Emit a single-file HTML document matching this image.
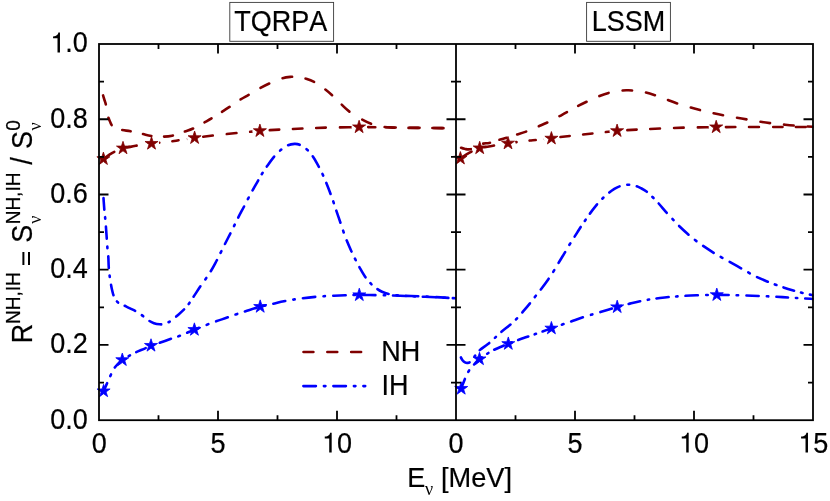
<!DOCTYPE html>
<html><head><meta charset="utf-8"><title>R NH/IH</title>
<style>html,body{margin:0;padding:0;background:#fff;}body{width:830px;height:501px;overflow:hidden;font-family:"Liberation Sans",sans-serif;}svg{display:block;will-change:transform;}text{font-family:"Liberation Sans",sans-serif;fill:#000;font-kerning:none;stroke:#000;stroke-width:0.2px;}.sf{font-family:"Liberation Serif",serif;stroke:none;}</style>
</head><body>
<svg width="830" height="501" viewBox="0 0 830 501">
<rect x="0" y="0" width="830" height="501" fill="#fff"/>
<defs><clipPath id="cl"><rect x="99.0" y="44.0" width="357.0" height="376.2"/></clipPath><clipPath id="cr"><rect x="456.0" y="44.0" width="357.5" height="376.2"/></clipPath></defs>
<g id="curves">
<path d="M103.40 158.90 C106.40 156.90 108.13 155.23 112.40 152.90 C116.98 150.40 118.47 149.90 123.00 148.20 C124.28 147.72 124.66 148.05 126.00 147.80" fill="none" stroke="#800000" stroke-width="2.60" stroke-dasharray="9.900 13.950" stroke-dashoffset="20.92" stroke-linecap="round" stroke-linejoin="round" clip-path="url(#cl)"/>
<path d="M126.00 147.80 C130.23 147.00 131.30 146.52 135.70 145.80 C142.78 144.63 144.38 144.48 151.50 143.60 C160.40 142.50 162.40 142.49 171.30 141.40" fill="none" stroke="#800000" stroke-width="2.60" stroke-dasharray="9.502 13.389" stroke-dashoffset="21.64" stroke-linecap="round" stroke-linejoin="round" clip-path="url(#cl)"/>
<path d="M171.30 141.40 C174.87 140.96 175.65 140.74 179.20 140.20 C182.71 139.66 183.49 139.52 187.00 139.00" fill="none" stroke="#800000" stroke-width="2.60" stroke-dasharray="6.593 9.290" stroke-dashoffset="15.02" stroke-linecap="round" stroke-linejoin="round" clip-path="url(#cl)"/>
<path d="M187.00 139.00 C190.42 138.49 191.18 138.39 194.60 137.90 C197.79 137.44 198.50 137.29 201.70 136.90" fill="none" stroke="#800000" stroke-width="2.60" stroke-dasharray="6.164 8.686" stroke-dashoffset="14.04" stroke-linecap="round" stroke-linejoin="round" clip-path="url(#cl)"/>
<path d="M201.70 136.90 C211.93 135.67 214.67 135.32 225.30 134.20" fill="none" stroke="#800000" stroke-width="2.60" stroke-dasharray="9.860 13.894" stroke-dashoffset="22.46" stroke-linecap="round" stroke-linejoin="round" clip-path="url(#cl)"/>
<path d="M225.30 134.20 C235.96 133.07 238.33 132.92 249.00 131.90" fill="none" stroke="#800000" stroke-width="2.60" stroke-dasharray="9.884 13.928" stroke-dashoffset="22.51" stroke-linecap="round" stroke-linejoin="round" clip-path="url(#cl)"/>
<path d="M249.00 131.90 C253.90 131.43 254.99 131.33 259.90 130.90 C263.68 130.57 264.51 130.43 268.30 130.20" fill="none" stroke="#800000" stroke-width="2.60" stroke-dasharray="8.043 11.333" stroke-dashoffset="18.32" stroke-linecap="round" stroke-linejoin="round" clip-path="url(#cl)"/>
<path d="M268.30 130.20 C278.74 129.57 281.06 129.50 291.50 129.00" fill="none" stroke="#800000" stroke-width="2.60" stroke-dasharray="9.643 13.588" stroke-dashoffset="21.97" stroke-linecap="round" stroke-linejoin="round" clip-path="url(#cl)"/>
<path d="M291.50 129.00 C301.94 128.51 304.26 128.36 314.70 128.00" fill="none" stroke="#800000" stroke-width="2.60" stroke-dasharray="9.639 13.583" stroke-dashoffset="21.96" stroke-linecap="round" stroke-linejoin="round" clip-path="url(#cl)"/>
<path d="M314.70 128.00 C325.27 127.64 327.62 127.61 338.20 127.40" fill="none" stroke="#800000" stroke-width="2.60" stroke-dasharray="9.758 13.750" stroke-dashoffset="22.23" stroke-linecap="round" stroke-linejoin="round" clip-path="url(#cl)"/>
<path d="M338.20 127.40 C347.60 127.21 349.69 127.20 359.10 127.10 C362.70 127.06 363.50 127.07 367.10 127.10" fill="none" stroke="#800000" stroke-width="2.60" stroke-dasharray="11.997 16.905" stroke-dashoffset="27.33" stroke-linecap="round" stroke-linejoin="round" clip-path="url(#cl)"/>
<path d="M367.10 127.10 C374.93 127.16 376.67 127.19 384.50 127.30" fill="none" stroke="#800000" stroke-width="2.60" stroke-dasharray="7.223 10.178" stroke-dashoffset="16.45" stroke-linecap="round" stroke-linejoin="round" clip-path="url(#cl)"/>
<path d="M384.50 127.30 C395.21 127.46 397.59 127.54 408.30 127.70" fill="none" stroke="#800000" stroke-width="2.60" stroke-dasharray="9.881 13.923" stroke-dashoffset="22.51" stroke-linecap="round" stroke-linejoin="round" clip-path="url(#cl)"/>
<path d="M408.30 127.70 C419.05 127.86 421.45 127.86 432.20 128.00" fill="none" stroke="#800000" stroke-width="2.60" stroke-dasharray="9.922 13.980" stroke-dashoffset="22.60" stroke-linecap="round" stroke-linejoin="round" clip-path="url(#cl)"/>
<path d="M432.20 128.00 C442.91 128.13 448.07 128.20 456.00 128.30" fill="none" stroke="#800000" stroke-width="2.60" stroke-dasharray="9.900 13.950" stroke-dashoffset="22.55" stroke-linecap="round" stroke-linejoin="round" clip-path="url(#cl)"/>
<path d="M460.40 158.40 C463.43 156.47 465.22 154.89 469.50 152.60 C473.93 150.24 475.10 149.80 479.70 148.10 C481.24 147.53 481.68 147.79 483.30 147.50" fill="none" stroke="#800000" stroke-width="2.60" stroke-dasharray="9.900 13.950" stroke-dashoffset="20.78" stroke-linecap="round" stroke-linejoin="round" clip-path="url(#cr)"/>
<path d="M483.30 147.50 C487.67 146.71 488.62 146.44 493.00 145.70 C499.74 144.55 501.23 144.25 508.00 143.30 C517.21 142.00 519.27 141.79 528.50 140.70" fill="none" stroke="#800000" stroke-width="2.60" stroke-dasharray="9.490 13.372" stroke-dashoffset="21.62" stroke-linecap="round" stroke-linejoin="round" clip-path="url(#cr)"/>
<path d="M528.50 140.70 C531.87 140.30 532.63 140.33 536.00 140.00 C539.60 139.65 540.40 139.57 544.00 139.20" fill="none" stroke="#800000" stroke-width="2.60" stroke-dasharray="6.464 9.109" stroke-dashoffset="14.72" stroke-linecap="round" stroke-linejoin="round" clip-path="url(#cr)"/>
<path d="M544.00 139.20 C547.33 138.85 548.08 138.84 551.40 138.40 C554.83 137.94 555.56 137.62 559.00 137.20" fill="none" stroke="#800000" stroke-width="2.60" stroke-dasharray="6.284 8.855" stroke-dashoffset="14.31" stroke-linecap="round" stroke-linejoin="round" clip-path="url(#cr)"/>
<path d="M559.00 137.20 C569.10 135.97 571.48 135.82 581.70 134.70" fill="none" stroke="#800000" stroke-width="2.60" stroke-dasharray="9.480 13.358" stroke-dashoffset="21.59" stroke-linecap="round" stroke-linejoin="round" clip-path="url(#cr)"/>
<path d="M581.70 134.70 C591.96 133.57 594.24 133.30 604.50 132.20" fill="none" stroke="#800000" stroke-width="2.60" stroke-dasharray="9.521 13.416" stroke-dashoffset="21.69" stroke-linecap="round" stroke-linejoin="round" clip-path="url(#cr)"/>
<path d="M604.50 132.20 C610.17 131.59 611.42 131.43 617.10 130.90 C621.06 130.53 621.93 130.44 625.90 130.20" fill="none" stroke="#800000" stroke-width="2.60" stroke-dasharray="8.923 12.573" stroke-dashoffset="20.32" stroke-linecap="round" stroke-linejoin="round" clip-path="url(#cr)"/>
<path d="M625.90 130.20 C636.16 129.58 638.44 129.48 648.70 129.00" fill="none" stroke="#800000" stroke-width="2.60" stroke-dasharray="9.477 13.354" stroke-dashoffset="21.59" stroke-linecap="round" stroke-linejoin="round" clip-path="url(#cr)"/>
<path d="M648.70 129.00 C659.45 128.49 661.84 128.36 672.60 128.00" fill="none" stroke="#800000" stroke-width="2.60" stroke-dasharray="9.930 13.992" stroke-dashoffset="22.62" stroke-linecap="round" stroke-linejoin="round" clip-path="url(#cr)"/>
<path d="M672.60 128.00 C683.17 127.64 685.52 127.62 696.10 127.40" fill="none" stroke="#800000" stroke-width="2.60" stroke-dasharray="9.758 13.750" stroke-dashoffset="22.23" stroke-linecap="round" stroke-linejoin="round" clip-path="url(#cr)"/>
<path d="M696.10 127.40 C705.14 127.21 707.15 127.20 716.20 127.10 C719.93 127.06 720.77 127.11 724.50 127.10" fill="none" stroke="#800000" stroke-width="2.60" stroke-dasharray="11.790 16.613" stroke-dashoffset="26.85" stroke-linecap="round" stroke-linejoin="round" clip-path="url(#cr)"/>
<path d="M724.50 127.10 C734.85 127.07 737.15 127.02 747.50 127.00" fill="none" stroke="#800000" stroke-width="2.60" stroke-dasharray="9.547 13.453" stroke-dashoffset="21.75" stroke-linecap="round" stroke-linejoin="round" clip-path="url(#cr)"/>
<path d="M747.50 127.00 C758.43 126.98 760.87 127.00 771.80 127.00" fill="none" stroke="#800000" stroke-width="2.60" stroke-dasharray="10.087 14.213" stroke-dashoffset="22.98" stroke-linecap="round" stroke-linejoin="round" clip-path="url(#cr)"/>
<path d="M771.80 127.00 C782.01 127.00 784.29 126.98 794.50 127.00" fill="none" stroke="#800000" stroke-width="2.60" stroke-dasharray="9.423 13.277" stroke-dashoffset="21.46" stroke-linecap="round" stroke-linejoin="round" clip-path="url(#cr)"/>
<path d="M794.50 127.00 C802.92 127.02 806.97 127.07 813.20 127.10" fill="none" stroke="#800000" stroke-width="2.60" stroke-dasharray="9.900 13.950" stroke-dashoffset="22.55" stroke-linecap="round" stroke-linejoin="round" clip-path="url(#cr)"/>
<g fill="#fff"><circle cx="151.5" cy="143.6" r="7.6"/><circle cx="194.6" cy="137.9" r="7.6"/><circle cx="259.9" cy="130.9" r="7.6"/><circle cx="359.1" cy="127.1" r="7.6"/><circle cx="508.0" cy="143.3" r="7.6"/><circle cx="551.4" cy="138.4" r="7.6"/><circle cx="617.1" cy="130.9" r="7.6"/><circle cx="716.2" cy="127.1" r="7.6"/></g>
<path d="M102.70 94.20 C103.23 95.97 103.57 97.12 104.30 99.50 C105.06 101.98 105.43 102.47 106.00 105.00 C107.15 110.13 106.86 111.39 108.10 116.50" fill="none" stroke="#800000" stroke-width="2.60" stroke-dasharray="9.544 13.448" stroke-dashoffset="21.74" stroke-linecap="round" stroke-linejoin="round" clip-path="url(#cl)"/>
<path d="M108.10 116.50 C108.67 118.84 109.02 119.30 110.00 121.50 C110.91 123.54 110.85 124.20 112.30 125.90 C113.62 127.45 114.14 127.67 116.00 128.50 C118.12 129.45 118.72 129.36 121.00 129.80" fill="none" stroke="#800000" stroke-width="2.60" stroke-dasharray="8.355 11.773" stroke-dashoffset="19.03" stroke-linecap="round" stroke-linejoin="round" clip-path="url(#cl)"/>
<path d="M121.00 129.80 C125.70 130.71 126.80 130.59 131.50 131.50 C136.12 132.39 137.10 132.79 141.70 133.80" fill="none" stroke="#800000" stroke-width="2.60" stroke-dasharray="8.757 12.339" stroke-dashoffset="19.95" stroke-linecap="round" stroke-linejoin="round" clip-path="url(#cl)"/>
<path d="M141.70 133.80 C146.33 134.82 147.30 135.38 152.00 136.00 C156.83 136.64 157.93 136.67 162.80 136.60" fill="none" stroke="#800000" stroke-width="2.60" stroke-dasharray="8.871 12.501" stroke-dashoffset="20.21" stroke-linecap="round" stroke-linejoin="round" clip-path="url(#cl)"/>
<path d="M162.80 136.60 C167.00 136.54 168.00 136.63 172.10 135.70 C177.42 134.50 178.44 133.67 183.60 131.90" fill="none" stroke="#800000" stroke-width="2.60" stroke-dasharray="8.923 12.573" stroke-dashoffset="20.32" stroke-linecap="round" stroke-linejoin="round" clip-path="url(#cl)"/>
<path d="M183.60 131.90 C188.16 130.34 189.30 130.29 193.70 128.30 C198.20 126.27 198.99 125.39 203.30 123.00" fill="none" stroke="#800000" stroke-width="2.60" stroke-dasharray="9.010 12.695" stroke-dashoffset="20.52" stroke-linecap="round" stroke-linejoin="round" clip-path="url(#cl)"/>
<path d="M203.30 123.00 C207.18 120.85 208.10 120.47 211.90 118.20 C215.93 115.79 216.75 115.13 220.70 112.60" fill="none" stroke="#800000" stroke-width="2.60" stroke-dasharray="8.419 11.863" stroke-dashoffset="19.18" stroke-linecap="round" stroke-linejoin="round" clip-path="url(#cl)"/>
<path d="M220.70 112.60 C224.49 110.18 225.35 109.68 229.10 107.20 C233.77 104.10 234.66 103.18 239.40 100.20" fill="none" stroke="#800000" stroke-width="2.60" stroke-dasharray="9.315 13.126" stroke-dashoffset="21.22" stroke-linecap="round" stroke-linejoin="round" clip-path="url(#cl)"/>
<path d="M239.40 100.20 C243.75 97.46 244.86 97.10 249.30 94.50 C253.77 91.88 254.65 91.09 259.20 88.60" fill="none" stroke="#800000" stroke-width="2.60" stroke-dasharray="9.527 13.425" stroke-dashoffset="21.70" stroke-linecap="round" stroke-linejoin="round" clip-path="url(#cl)"/>
<path d="M259.20 88.60 C263.93 86.01 264.99 85.43 269.90 83.20 C274.90 80.93 275.94 80.16 281.20 78.60" fill="none" stroke="#800000" stroke-width="2.60" stroke-dasharray="10.049 14.159" stroke-dashoffset="22.89" stroke-linecap="round" stroke-linejoin="round" clip-path="url(#cl)"/>
<path d="M281.20 78.60 C285.71 77.26 286.82 77.25 291.50 76.80 C294.41 76.52 295.09 76.68 298.00 77.00 C300.82 77.31 301.49 77.33 304.20 78.20" fill="none" stroke="#800000" stroke-width="2.60" stroke-dasharray="9.687 13.650" stroke-dashoffset="22.07" stroke-linecap="round" stroke-linejoin="round" clip-path="url(#cl)"/>
<path d="M304.20 78.20 C309.35 79.86 310.60 80.09 315.40 82.60 C319.70 84.85 320.43 85.76 324.30 88.70" fill="none" stroke="#800000" stroke-width="2.60" stroke-dasharray="9.493 13.377" stroke-dashoffset="21.62" stroke-linecap="round" stroke-linejoin="round" clip-path="url(#cl)"/>
<path d="M324.30 88.70 C328.32 91.75 329.17 92.49 332.90 95.90 C336.52 99.21 337.03 100.24 340.60 103.60" fill="none" stroke="#800000" stroke-width="2.60" stroke-dasharray="9.180 12.935" stroke-dashoffset="20.91" stroke-linecap="round" stroke-linejoin="round" clip-path="url(#cl)"/>
<path d="M340.60 103.60 C344.82 107.58 345.56 108.72 350.20 112.20 C354.78 115.63 355.99 116.14 361.00 118.90" fill="none" stroke="#800000" stroke-width="2.60" stroke-dasharray="10.638 14.991" stroke-dashoffset="24.23" stroke-linecap="round" stroke-linejoin="round" clip-path="url(#cl)"/>
<path d="M361.00 118.90 C365.50 121.37 366.52 121.94 371.30 123.80 C375.10 125.28 376.00 125.53 380.00 126.30 C384.45 127.16 385.49 127.06 390.00 127.40 C394.49 127.74 395.50 127.72 400.00 127.80 C409.00 127.95 411.00 127.82 420.00 127.90 C436.20 128.04 444.00 128.17 456.00 128.30" fill="none" stroke="#800000" stroke-width="2.60" stroke-dasharray="9.900 13.950" stroke-dashoffset="22.55" stroke-linecap="round" stroke-linejoin="round" clip-path="url(#cl)"/>
<path d="M103.40 196.80 C103.80 202.23 103.98 205.77 104.60 213.10 C104.83 215.81 105.03 216.40 105.30 219.10 C105.57 221.80 105.60 222.40 105.80 225.10" fill="none" stroke="#0000ff" stroke-width="2.60" stroke-dasharray="11.836 7.575 1.420 7.575" stroke-dashoffset="27.18" stroke-linecap="round" stroke-linejoin="round" clip-path="url(#cl)"/>
<path d="M105.80 225.10 C106.36 232.66 106.46 234.34 107.00 241.90 C107.23 245.09 107.21 245.81 107.50 249.00 C107.75 251.71 108.01 252.29 108.20 255.00" fill="none" stroke="#0000ff" stroke-width="2.60" stroke-dasharray="12.501 8.001 1.500 8.001" stroke-dashoffset="28.70" stroke-linecap="round" stroke-linejoin="round" clip-path="url(#cl)"/>
<path d="M108.20 255.00 C108.64 261.47 108.42 262.93 108.90 269.40 C109.18 273.20 109.39 274.03 109.90 277.80 C110.25 280.37 110.34 280.94 110.80 283.50" fill="none" stroke="#0000ff" stroke-width="2.60" stroke-dasharray="11.938 7.640 1.433 7.640" stroke-dashoffset="27.41" stroke-linecap="round" stroke-linejoin="round" clip-path="url(#cl)"/>
<path d="M110.80 283.50 C111.37 286.66 111.40 287.39 112.20 290.50 C112.94 293.38 112.92 294.11 114.20 296.80 C115.47 299.47 115.61 300.31 117.80 302.30 C119.85 304.17 120.81 303.87 123.30 305.10" fill="none" stroke="#0000ff" stroke-width="2.60" stroke-dasharray="11.097 7.102 1.332 7.102" stroke-dashoffset="25.48" stroke-linecap="round" stroke-linejoin="round" clip-path="url(#cl)"/>
<path d="M123.30 305.10 C126.30 306.57 127.02 306.80 130.00 308.30 C133.45 310.04 134.27 310.34 137.60 312.30 C139.86 313.63 140.30 314.03 142.40 315.60 C145.07 317.59 145.41 318.37 148.20 320.20" fill="none" stroke="#0000ff" stroke-width="2.60" stroke-dasharray="12.190 7.801 1.463 7.801" stroke-dashoffset="27.99" stroke-linecap="round" stroke-linejoin="round" clip-path="url(#cl)"/>
<path d="M148.20 320.20 C150.66 321.81 151.23 322.21 154.00 323.20 C156.46 324.08 157.09 324.15 159.70 324.30 C161.87 324.42 162.43 324.45 164.50 323.80 C167.67 322.81 168.35 322.41 171.20 320.70 C173.20 319.50 173.45 318.94 175.20 317.40" fill="none" stroke="#0000ff" stroke-width="2.60" stroke-dasharray="12.446 7.966 1.494 7.966" stroke-dashoffset="28.58" stroke-linecap="round" stroke-linejoin="round" clip-path="url(#cl)"/>
<path d="M175.20 317.40 C179.57 313.54 180.68 312.82 184.80 308.70 C186.86 306.64 187.17 306.04 188.90 303.70 C190.73 301.22 190.99 300.57 192.70 298.00" fill="none" stroke="#0000ff" stroke-width="2.60" stroke-dasharray="10.954 7.010 1.314 7.010" stroke-dashoffset="25.15" stroke-linecap="round" stroke-linejoin="round" clip-path="url(#cl)"/>
<path d="M192.70 298.00 C196.71 291.97 197.53 290.59 201.60 284.60 C203.16 282.31 203.62 281.88 205.20 279.60 C207.40 276.43 208.01 275.80 210.00 272.50" fill="none" stroke="#0000ff" stroke-width="2.60" stroke-dasharray="12.842 8.219 1.541 8.219" stroke-dashoffset="29.49" stroke-linecap="round" stroke-linejoin="round" clip-path="url(#cl)"/>
<path d="M210.00 272.50 C213.19 267.20 213.77 265.95 216.70 260.50 C218.59 256.99 218.92 256.16 220.70 252.60 C222.34 249.32 222.65 248.57 224.30 245.30" fill="none" stroke="#0000ff" stroke-width="2.60" stroke-dasharray="12.809 8.198 1.537 8.198" stroke-dashoffset="29.41" stroke-linecap="round" stroke-linejoin="round" clip-path="url(#cl)"/>
<path d="M224.30 245.30 C227.28 239.39 228.01 238.11 231.00 232.20 C232.33 229.56 232.60 228.96 233.90 226.30 C235.53 222.97 235.81 222.19 237.50 218.90" fill="none" stroke="#0000ff" stroke-width="2.60" stroke-dasharray="12.299 7.871 1.476 7.871" stroke-dashoffset="28.24" stroke-linecap="round" stroke-linejoin="round" clip-path="url(#cl)"/>
<path d="M237.50 218.90 C240.67 212.74 241.48 211.43 244.70 205.30 C246.34 202.16 246.65 201.44 248.30 198.30 C249.89 195.27 250.24 194.59 251.90 191.60" fill="none" stroke="#0000ff" stroke-width="2.60" stroke-dasharray="12.861 8.231 1.543 8.231" stroke-dashoffset="29.53" stroke-linecap="round" stroke-linejoin="round" clip-path="url(#cl)"/>
<path d="M251.90 191.60 C254.61 186.72 255.25 185.65 258.00 180.80 C259.79 177.64 260.12 176.90 262.00 173.80 C263.67 171.05 264.04 170.43 265.90 167.80" fill="none" stroke="#0000ff" stroke-width="2.60" stroke-dasharray="11.511 7.367 1.381 7.367" stroke-dashoffset="26.43" stroke-linecap="round" stroke-linejoin="round" clip-path="url(#cl)"/>
<path d="M265.90 167.80 C269.75 162.37 270.49 161.06 274.70 155.90 C276.63 153.53 277.15 153.06 279.50 151.10 C282.57 148.54 283.09 147.62 286.70 145.90" fill="none" stroke="#0000ff" stroke-width="2.60" stroke-dasharray="12.722 8.142 1.527 8.142" stroke-dashoffset="29.21" stroke-linecap="round" stroke-linejoin="round" clip-path="url(#cl)"/>
<path d="M286.70 145.90 C290.01 144.32 290.94 144.03 294.60 143.90 C297.60 143.80 298.35 144.19 301.10 145.40 C303.85 146.62 304.36 147.19 306.60 149.20 C309.26 151.58 309.87 152.17 311.90 155.10" fill="none" stroke="#0000ff" stroke-width="2.60" stroke-dasharray="12.372 7.918 1.485 7.918" stroke-dashoffset="28.41" stroke-linecap="round" stroke-linejoin="round" clip-path="url(#cl)"/>
<path d="M311.90 155.10 C315.47 160.26 315.95 161.62 319.00 167.10 C320.76 170.26 321.07 171.02 322.60 174.30 C324.09 177.50 324.38 178.23 325.70 181.50" fill="none" stroke="#0000ff" stroke-width="2.60" stroke-dasharray="12.436 7.959 1.492 7.959" stroke-dashoffset="28.55" stroke-linecap="round" stroke-linejoin="round" clip-path="url(#cl)"/>
<path d="M325.70 181.50 C328.16 187.59 328.68 188.95 331.00 195.10 C332.15 198.14 332.35 198.83 333.40 201.90 C334.51 205.17 334.69 205.93 335.80 209.20" fill="none" stroke="#0000ff" stroke-width="2.60" stroke-dasharray="12.289 7.865 1.475 7.865" stroke-dashoffset="28.21" stroke-linecap="round" stroke-linejoin="round" clip-path="url(#cl)"/>
<path d="M335.80 209.20 C338.15 216.14 338.74 217.66 341.10 224.60 C342.20 227.83 342.38 228.57 343.50 231.80 C344.63 235.05 344.81 235.81 346.10 239.00" fill="none" stroke="#0000ff" stroke-width="2.60" stroke-dasharray="13.139 8.409 1.577 8.409" stroke-dashoffset="30.17" stroke-linecap="round" stroke-linejoin="round" clip-path="url(#cl)"/>
<path d="M346.10 239.00 C348.41 244.72 348.96 245.98 351.50 251.60 C353.01 254.94 353.45 255.63 355.10 258.90 C356.69 262.06 356.97 262.81 358.70 265.90" fill="none" stroke="#0000ff" stroke-width="2.60" stroke-dasharray="12.385 7.926 1.486 7.926" stroke-dashoffset="28.44" stroke-linecap="round" stroke-linejoin="round" clip-path="url(#cl)"/>
<path d="M358.70 265.90 C361.47 270.83 361.97 272.00 365.10 276.70 C367.02 279.58 367.50 280.21 369.90 282.70 C372.51 285.41 373.19 285.94 376.20 288.20" fill="none" stroke="#0000ff" stroke-width="2.60" stroke-dasharray="11.932 7.637 1.432 7.637" stroke-dashoffset="27.40" stroke-linecap="round" stroke-linejoin="round" clip-path="url(#cl)"/>
<path d="M376.20 288.20 C378.66 290.05 379.22 290.50 382.00 291.80 C384.84 293.13 385.53 293.37 388.60 294.00 C393.67 295.04 394.84 295.12 400.00 295.50 C408.98 296.16 411.00 295.85 420.00 296.30 C436.20 297.11 444.00 297.63 456.00 298.30" fill="none" stroke="#0000ff" stroke-width="2.60" stroke-dasharray="12.500 8.000 1.500 8.000" stroke-dashoffset="28.70" stroke-linecap="round" stroke-linejoin="round" clip-path="url(#cl)"/>
<path d="M103.60 391.10 C104.67 388.70 105.36 387.14 106.80 383.90 C108.46 380.16 108.75 379.30 110.50 375.60 C111.99 372.45 112.13 371.64 114.00 368.70" fill="none" stroke="#0000ff" stroke-width="2.60" stroke-dasharray="12.500 8.000 1.500 8.000" stroke-dashoffset="3.99" stroke-linecap="round" stroke-linejoin="round" clip-path="url(#cl)"/>
<path d="M114.00 368.70 C115.53 366.30 116.05 365.87 118.00 363.80 C119.79 361.90 120.19 361.44 122.30 359.90 C124.89 358.01 125.60 357.77 128.40 356.20 C131.36 354.53 132.02 354.14 135.10 352.70" fill="none" stroke="#0000ff" stroke-width="2.60" stroke-dasharray="11.193 7.164 1.343 7.164" stroke-dashoffset="25.70" stroke-linecap="round" stroke-linejoin="round" clip-path="url(#cl)"/>
<path d="M135.10 352.70 C139.90 350.45 141.06 350.16 145.90 348.00 C148.22 346.97 148.63 346.51 151.00 345.60 C154.27 344.35 155.09 344.33 158.40 343.20" fill="none" stroke="#0000ff" stroke-width="2.60" stroke-dasharray="10.500 6.720 1.260 6.720" stroke-dashoffset="24.11" stroke-linecap="round" stroke-linejoin="round" clip-path="url(#cl)"/>
<path d="M158.40 343.20 C164.31 341.18 165.60 340.64 171.50 338.60 C174.96 337.40 175.77 337.27 179.20 336.00 C182.21 334.88 182.84 334.53 185.80 333.30" fill="none" stroke="#0000ff" stroke-width="2.60" stroke-dasharray="12.143 7.772 1.457 7.772" stroke-dashoffset="27.88" stroke-linecap="round" stroke-linejoin="round" clip-path="url(#cl)"/>
<path d="M185.80 333.30 C189.68 331.69 190.51 331.28 194.40 329.70 C200.28 327.32 201.59 326.80 207.50 324.50 C210.72 323.25 211.44 322.95 214.70 321.80" fill="none" stroke="#0000ff" stroke-width="2.60" stroke-dasharray="12.962 8.295 1.555 8.295" stroke-dashoffset="29.76" stroke-linecap="round" stroke-linejoin="round" clip-path="url(#cl)"/>
<path d="M214.70 321.80 C221.02 319.57 222.48 319.22 228.80 317.00 C231.97 315.89 232.63 315.50 235.80 314.40 C239.24 313.21 240.03 313.00 243.50 311.90" fill="none" stroke="#0000ff" stroke-width="2.60" stroke-dasharray="12.691 8.122 1.523 8.122" stroke-dashoffset="29.14" stroke-linecap="round" stroke-linejoin="round" clip-path="url(#cl)"/>
<path d="M243.50 311.90 C251.01 309.53 252.62 308.81 260.20 306.70 C265.41 305.25 266.63 305.17 271.90 304.00" fill="none" stroke="#0000ff" stroke-width="2.60" stroke-dasharray="12.293 7.868 1.475 7.868" stroke-dashoffset="28.22" stroke-linecap="round" stroke-linejoin="round" clip-path="url(#cl)"/>
<path d="M271.90 304.00 C278.37 302.56 279.79 302.14 286.30 300.90 C293.07 299.62 294.58 299.34 301.40 298.40" fill="none" stroke="#0000ff" stroke-width="2.60" stroke-dasharray="12.516 8.010 1.502 8.010" stroke-dashoffset="28.74" stroke-linecap="round" stroke-linejoin="round" clip-path="url(#cl)"/>
<path d="M301.40 298.40 C308.04 297.49 309.53 297.37 316.20 296.80 C323.21 296.20 324.78 296.19 331.80 295.80" fill="none" stroke="#0000ff" stroke-width="2.60" stroke-dasharray="12.717 8.139 1.526 8.139" stroke-dashoffset="29.20" stroke-linecap="round" stroke-linejoin="round" clip-path="url(#cl)"/>
<path d="M331.80 295.80 C337.74 295.47 339.06 295.37 345.00 295.20 C351.43 295.01 352.86 295.00 359.30 295.00 C368.62 295.00 370.69 295.02 380.00 295.20 C389.00 295.38 391.00 295.48 400.00 295.80 C411.25 296.20 413.75 296.30 425.00 296.80 C438.95 297.42 445.67 297.80 456.00 298.30" fill="none" stroke="#0000ff" stroke-width="2.60" stroke-dasharray="12.500 8.000 1.500 8.000" stroke-dashoffset="28.70" stroke-linecap="round" stroke-linejoin="round" clip-path="url(#cl)"/>
<path d="M459.80 147.30 C461.37 147.80 462.32 148.38 464.50 148.80 C466.98 149.28 467.60 149.71 470.10 149.30 C472.71 148.87 473.09 148.08 475.50 147.00 C478.49 145.65 478.95 144.83 482.10 143.90" fill="none" stroke="#800000" stroke-width="2.60" stroke-dasharray="9.893 13.940" stroke-dashoffset="22.53" stroke-linecap="round" stroke-linejoin="round" clip-path="url(#cr)"/>
<path d="M482.10 143.90 C485.24 142.97 486.11 143.64 489.30 142.90 C493.47 141.93 494.30 141.33 498.40 140.10" fill="none" stroke="#800000" stroke-width="2.60" stroke-dasharray="6.980 9.835" stroke-dashoffset="15.90" stroke-linecap="round" stroke-linejoin="round" clip-path="url(#cr)"/>
<path d="M498.40 140.10 C502.71 138.81 503.69 138.59 508.00 137.30 C511.52 136.25 512.30 136.00 515.80 134.90" fill="none" stroke="#800000" stroke-width="2.60" stroke-dasharray="7.539 10.623" stroke-dashoffset="17.17" stroke-linecap="round" stroke-linejoin="round" clip-path="url(#cr)"/>
<path d="M515.80 134.90 C520.44 133.44 521.54 133.30 526.10 131.60 C531.31 129.65 532.39 129.00 537.50 126.80" fill="none" stroke="#800000" stroke-width="2.60" stroke-dasharray="9.626 13.564" stroke-dashoffset="21.93" stroke-linecap="round" stroke-linejoin="round" clip-path="url(#cr)"/>
<path d="M537.50 126.80 C542.42 124.68 543.57 124.32 548.40 122.00 C552.94 119.82 553.85 119.16 558.30 116.80" fill="none" stroke="#800000" stroke-width="2.60" stroke-dasharray="9.587 13.509" stroke-dashoffset="21.84" stroke-linecap="round" stroke-linejoin="round" clip-path="url(#cr)"/>
<path d="M558.30 116.80 C562.94 114.34 563.99 113.83 568.60 111.30 C572.36 109.24 573.11 108.61 576.90 106.60" fill="none" stroke="#800000" stroke-width="2.60" stroke-dasharray="8.807 12.409" stroke-dashoffset="20.06" stroke-linecap="round" stroke-linejoin="round" clip-path="url(#cr)"/>
<path d="M576.90 106.60 C581.70 104.06 582.79 103.53 587.70 101.20 C592.29 99.03 593.28 98.47 598.00 96.60" fill="none" stroke="#800000" stroke-width="2.60" stroke-dasharray="9.697 13.664" stroke-dashoffset="22.09" stroke-linecap="round" stroke-linejoin="round" clip-path="url(#cr)"/>
<path d="M598.00 96.60 C602.74 94.73 603.76 94.16 608.70 92.90 C614.19 91.50 615.49 91.49 621.10 90.70" fill="none" stroke="#800000" stroke-width="2.60" stroke-dasharray="9.937 14.002" stroke-dashoffset="22.63" stroke-linecap="round" stroke-linejoin="round" clip-path="url(#cr)"/>
<path d="M621.10 90.70 C623.78 90.32 624.39 90.35 627.10 90.30 C629.58 90.26 630.14 90.22 632.60 90.50 C638.03 91.12 639.26 91.15 644.60 92.30" fill="none" stroke="#800000" stroke-width="2.60" stroke-dasharray="9.826 13.846" stroke-dashoffset="22.38" stroke-linecap="round" stroke-linejoin="round" clip-path="url(#cr)"/>
<path d="M644.60 92.30 C649.77 93.41 650.88 93.86 655.90 95.50 C660.79 97.10 661.78 97.71 666.60 99.50" fill="none" stroke="#800000" stroke-width="2.60" stroke-dasharray="9.621 13.557" stroke-dashoffset="21.92" stroke-linecap="round" stroke-linejoin="round" clip-path="url(#cr)"/>
<path d="M666.60 99.50 C671.46 101.31 672.49 101.84 677.40 103.50 C682.75 105.31 683.98 105.62 689.40 107.20" fill="none" stroke="#800000" stroke-width="2.60" stroke-dasharray="9.994 14.083" stroke-dashoffset="22.76" stroke-linecap="round" stroke-linejoin="round" clip-path="url(#cr)"/>
<path d="M689.40 107.20 C694.46 108.68 695.59 109.00 700.70 110.30 C705.85 111.61 707.01 111.85 712.20 113.00" fill="none" stroke="#800000" stroke-width="2.60" stroke-dasharray="9.768 13.764" stroke-dashoffset="22.25" stroke-linecap="round" stroke-linejoin="round" clip-path="url(#cr)"/>
<path d="M712.20 113.00 C717.54 114.19 718.73 114.47 724.10 115.50 C729.26 116.49 730.42 116.60 735.60 117.50" fill="none" stroke="#800000" stroke-width="2.60" stroke-dasharray="9.893 13.940" stroke-dashoffset="22.53" stroke-linecap="round" stroke-linejoin="round" clip-path="url(#cr)"/>
<path d="M735.60 117.50 C741.09 118.45 742.31 118.64 747.80 119.60 C752.89 120.49 754.00 120.79 759.10 121.60" fill="none" stroke="#800000" stroke-width="2.60" stroke-dasharray="9.902 13.953" stroke-dashoffset="22.56" stroke-linecap="round" stroke-linejoin="round" clip-path="url(#cr)"/>
<path d="M759.10 121.60 C764.26 122.41 765.41 122.56 770.60 123.20 C775.99 123.87 777.20 123.96 782.60 124.50" fill="none" stroke="#800000" stroke-width="2.60" stroke-dasharray="9.830 13.852" stroke-dashoffset="22.39" stroke-linecap="round" stroke-linejoin="round" clip-path="url(#cr)"/>
<path d="M782.60 124.50 C788.00 125.04 789.19 125.19 794.60 125.60 C802.87 126.23 806.87 126.40 813.00 126.80" fill="none" stroke="#800000" stroke-width="2.60" stroke-dasharray="9.900 13.950" stroke-dashoffset="22.55" stroke-linecap="round" stroke-linejoin="round" clip-path="url(#cr)"/>
<path d="M460.40 356.40 C461.10 357.67 461.31 358.65 462.50 360.20 C463.41 361.39 463.68 361.70 465.00 362.40 C466.05 362.96 466.42 363.07 467.60 362.90 C469.02 362.69 469.39 362.50 470.50 361.60 C471.97 360.42 472.04 359.88 473.20 358.40 C475.73 355.16 475.74 353.96 478.70 351.10" fill="none" stroke="#0000ff" stroke-width="2.60" stroke-dasharray="11.270 7.213 1.352 7.213" stroke-dashoffset="25.88" stroke-linecap="round" stroke-linejoin="round" clip-path="url(#cr)"/>
<path d="M478.70 351.10 C482.60 347.33 484.08 347.21 488.30 343.80 C490.93 341.67 491.41 341.08 493.90 338.80 C496.86 336.09 497.35 335.31 500.40 332.70" fill="none" stroke="#0000ff" stroke-width="2.60" stroke-dasharray="11.876 7.601 1.425 7.601" stroke-dashoffset="27.27" stroke-linecap="round" stroke-linejoin="round" clip-path="url(#cr)"/>
<path d="M500.40 332.70 C505.86 328.02 507.37 327.33 512.80 322.60 C515.08 320.61 515.42 320.00 517.50 317.80 C519.29 315.90 519.70 315.48 521.40 313.50" fill="none" stroke="#0000ff" stroke-width="2.60" stroke-dasharray="11.885 7.607 1.426 7.607" stroke-dashoffset="27.29" stroke-linecap="round" stroke-linejoin="round" clip-path="url(#cr)"/>
<path d="M521.40 313.50 C525.95 308.19 526.98 307.02 531.40 301.60 C533.10 299.51 533.34 298.93 535.00 296.80 C537.12 294.07 537.71 293.55 539.80 290.80" fill="none" stroke="#0000ff" stroke-width="2.60" stroke-dasharray="12.179 7.795 1.461 7.795" stroke-dashoffset="27.96" stroke-linecap="round" stroke-linejoin="round" clip-path="url(#cr)"/>
<path d="M539.80 290.80 C543.65 285.72 544.52 284.61 548.20 279.40 C550.69 275.87 551.19 275.05 553.50 271.40 C555.52 268.21 555.85 267.43 557.80 264.20" fill="none" stroke="#0000ff" stroke-width="2.60" stroke-dasharray="13.394 8.572 1.607 8.572" stroke-dashoffset="30.75" stroke-linecap="round" stroke-linejoin="round" clip-path="url(#cr)"/>
<path d="M557.80 264.20 C561.25 258.48 562.07 257.24 565.50 251.50 C567.16 248.73 567.41 248.05 569.10 245.30 C571.19 241.88 571.75 241.18 573.90 237.80" fill="none" stroke="#0000ff" stroke-width="2.60" stroke-dasharray="12.886 8.247 1.546 8.247" stroke-dashoffset="29.59" stroke-linecap="round" stroke-linejoin="round" clip-path="url(#cr)"/>
<path d="M573.90 237.80 C576.84 233.17 577.42 232.10 580.40 227.50 C582.28 224.59 582.75 223.97 584.70 221.10 C586.62 218.26 586.96 217.56 589.00 214.80" fill="none" stroke="#0000ff" stroke-width="2.60" stroke-dasharray="11.466 7.338 1.376 7.338" stroke-dashoffset="26.33" stroke-linecap="round" stroke-linejoin="round" clip-path="url(#cr)"/>
<path d="M589.00 214.80 C592.54 210.00 593.30 208.90 597.10 204.30 C599.25 201.70 599.79 201.16 602.20 198.80 C604.75 196.30 605.33 195.75 608.10 193.50" fill="none" stroke="#0000ff" stroke-width="2.60" stroke-dasharray="11.961 7.655 1.435 7.655" stroke-dashoffset="27.46" stroke-linecap="round" stroke-linejoin="round" clip-path="url(#cr)"/>
<path d="M608.10 193.50 C610.65 191.43 611.19 190.91 614.00 189.20 C616.61 187.61 617.19 187.15 620.10 186.20 C623.46 185.11 624.27 184.77 627.80 184.70 C631.26 184.63 632.05 185.01 635.40 185.90" fill="none" stroke="#0000ff" stroke-width="2.60" stroke-dasharray="12.400 7.936 1.488 7.936" stroke-dashoffset="28.47" stroke-linecap="round" stroke-linejoin="round" clip-path="url(#cr)"/>
<path d="M635.40 185.90 C638.03 186.60 638.58 186.96 641.00 188.20 C643.77 189.62 644.43 189.91 646.90 191.80 C649.63 193.89 650.05 194.59 652.50 197.00 C654.91 199.36 655.44 199.90 657.70 202.40" fill="none" stroke="#0000ff" stroke-width="2.60" stroke-dasharray="11.729 7.507 1.407 7.507" stroke-dashoffset="26.93" stroke-linecap="round" stroke-linejoin="round" clip-path="url(#cr)"/>
<path d="M657.70 202.40 C662.10 207.28 662.92 208.51 667.30 213.40 C669.49 215.84 670.07 216.30 672.30 218.70 C674.88 221.47 675.30 222.24 678.00 224.90" fill="none" stroke="#0000ff" stroke-width="2.60" stroke-dasharray="12.630 8.083 1.516 8.083" stroke-dashoffset="29.00" stroke-linecap="round" stroke-linejoin="round" clip-path="url(#cr)"/>
<path d="M678.00 224.90 C682.68 229.50 683.79 230.45 688.70 234.80 C691.62 237.39 692.32 237.90 695.40 240.30 C698.27 242.54 698.89 243.05 701.90 245.10" fill="none" stroke="#0000ff" stroke-width="2.60" stroke-dasharray="13.056 8.356 1.567 8.356" stroke-dashoffset="29.98" stroke-linecap="round" stroke-linejoin="round" clip-path="url(#cr)"/>
<path d="M701.90 245.10 C707.76 249.09 709.10 249.93 715.10 253.70 C718.05 255.56 718.77 255.88 721.80 257.60 C724.71 259.25 725.38 259.58 728.30 261.20" fill="none" stroke="#0000ff" stroke-width="2.60" stroke-dasharray="12.892 8.251 1.547 8.251" stroke-dashoffset="29.60" stroke-linecap="round" stroke-linejoin="round" clip-path="url(#cr)"/>
<path d="M728.30 261.20 C733.66 264.17 734.87 264.79 740.20 267.80 C743.78 269.83 744.51 270.40 748.10 272.40 C751.53 274.31 752.25 274.82 755.80 276.50" fill="none" stroke="#0000ff" stroke-width="2.60" stroke-dasharray="13.115 8.394 1.574 8.394" stroke-dashoffset="30.11" stroke-linecap="round" stroke-linejoin="round" clip-path="url(#cr)"/>
<path d="M755.80 276.50 C761.12 279.01 762.37 279.44 767.80 281.70 C771.01 283.04 771.74 283.30 775.00 284.50 C778.22 285.68 778.93 285.95 782.20 287.00" fill="none" stroke="#0000ff" stroke-width="2.60" stroke-dasharray="11.845 7.581 1.421 7.581" stroke-dashoffset="27.20" stroke-linecap="round" stroke-linejoin="round" clip-path="url(#cr)"/>
<path d="M782.20 287.00 C788.07 288.88 789.39 289.25 795.30 291.00 C798.52 291.95 799.24 292.18 802.50 293.00 C805.18 293.67 805.80 293.70 808.50 294.30" fill="none" stroke="#0000ff" stroke-width="2.60" stroke-dasharray="11.380 7.283 1.366 7.283" stroke-dashoffset="26.13" stroke-linecap="round" stroke-linejoin="round" clip-path="url(#cr)"/>
<path d="M808.50 294.30 C810.66 294.78 811.70 295.03 813.30 295.40" fill="none" stroke="#0000ff" stroke-width="2.60" stroke-dasharray="12.500 8.000 1.500 8.000" stroke-dashoffset="28.70" stroke-linecap="round" stroke-linejoin="round" clip-path="url(#cr)"/>
<path d="M461.20 388.60 C462.23 385.90 462.81 384.11 464.30 380.50 C465.82 376.81 465.86 375.83 467.90 372.40 C469.90 369.03 470.63 368.45 473.20 365.50" fill="none" stroke="#0000ff" stroke-width="2.60" stroke-dasharray="12.500 8.000 1.500 8.000" stroke-dashoffset="2.43" stroke-linecap="round" stroke-linejoin="round" clip-path="url(#cr)"/>
<path d="M473.20 365.50 C475.86 362.45 476.41 361.70 479.50 359.10 C482.64 356.46 483.55 356.13 487.00 353.90 C489.68 352.17 490.24 351.71 493.10 350.30" fill="none" stroke="#0000ff" stroke-width="2.60" stroke-dasharray="10.510 6.726 1.261 6.726" stroke-dashoffset="24.13" stroke-linecap="round" stroke-linejoin="round" clip-path="url(#cr)"/>
<path d="M493.10 350.30 C498.04 347.87 499.24 347.56 504.30 345.40 C506.08 344.64 506.50 344.51 508.30 343.80 C512.21 342.26 513.05 341.85 517.00 340.40" fill="none" stroke="#0000ff" stroke-width="2.60" stroke-dasharray="10.782 6.901 1.294 6.901" stroke-dashoffset="24.76" stroke-linecap="round" stroke-linejoin="round" clip-path="url(#cr)"/>
<path d="M517.00 340.40 C521.65 338.70 522.72 338.41 527.40 336.80 C530.55 335.71 531.25 335.49 534.40 334.40 C537.46 333.33 538.15 333.10 541.20 332.00" fill="none" stroke="#0000ff" stroke-width="2.60" stroke-dasharray="10.674 6.831 1.281 6.831" stroke-dashoffset="24.51" stroke-linecap="round" stroke-linejoin="round" clip-path="url(#cr)"/>
<path d="M541.20 332.00 C545.80 330.35 546.80 329.94 551.40 328.30 C556.29 326.56 557.40 326.21 562.30 324.50 C565.63 323.33 566.36 323.05 569.70 321.90" fill="none" stroke="#0000ff" stroke-width="2.60" stroke-dasharray="12.599 8.063 1.512 8.063" stroke-dashoffset="28.93" stroke-linecap="round" stroke-linejoin="round" clip-path="url(#cr)"/>
<path d="M569.70 321.90 C576.67 319.50 578.18 318.85 585.20 316.60 C591.37 314.62 592.79 314.36 599.00 312.50" fill="none" stroke="#0000ff" stroke-width="2.60" stroke-dasharray="12.824 8.208 1.539 8.208" stroke-dashoffset="29.44" stroke-linecap="round" stroke-linejoin="round" clip-path="url(#cr)"/>
<path d="M599.00 312.50 C607.19 310.04 608.98 309.38 617.20 307.00 C621.72 305.69 622.74 305.44 627.30 304.30" fill="none" stroke="#0000ff" stroke-width="2.60" stroke-dasharray="12.279 7.858 1.473 7.858" stroke-dashoffset="28.19" stroke-linecap="round" stroke-linejoin="round" clip-path="url(#cr)"/>
<path d="M627.30 304.30 C633.00 302.88 634.23 302.41 640.00 301.30 C648.96 299.57 650.95 299.11 660.00 298.00 C670.76 296.68 673.19 296.66 684.00 295.90" fill="none" stroke="#0000ff" stroke-width="2.60" stroke-dasharray="11.964 7.657 1.436 7.657" stroke-dashoffset="27.47" stroke-linecap="round" stroke-linejoin="round" clip-path="url(#cr)"/>
<path d="M684.00 295.90 C691.19 295.40 692.80 295.42 700.00 295.20 C707.56 294.97 709.24 294.85 716.80 294.90 C729.49 294.98 732.31 295.18 745.00 295.50" fill="none" stroke="#0000ff" stroke-width="2.60" stroke-dasharray="12.714 8.137 1.526 8.137" stroke-dashoffset="29.19" stroke-linecap="round" stroke-linejoin="round" clip-path="url(#cr)"/>
<path d="M745.00 295.50 C751.75 295.67 753.25 295.73 760.00 296.00 C766.75 296.27 768.25 296.34 775.00 296.70" fill="none" stroke="#0000ff" stroke-width="2.60" stroke-dasharray="12.510 8.007 1.501 8.007" stroke-dashoffset="28.72" stroke-linecap="round" stroke-linejoin="round" clip-path="url(#cr)"/>
<path d="M775.00 296.70 C781.75 297.06 783.25 297.20 790.00 297.60 C796.16 297.97 797.54 298.03 803.70 298.40" fill="none" stroke="#0000ff" stroke-width="2.60" stroke-dasharray="11.979 7.667 1.438 7.667" stroke-dashoffset="27.50" stroke-linecap="round" stroke-linejoin="round" clip-path="url(#cr)"/>
<path d="M803.70 298.40 C808.02 298.66 810.10 298.80 813.30 299.00" fill="none" stroke="#0000ff" stroke-width="2.60" stroke-dasharray="12.500 8.000 1.500 8.000" stroke-dashoffset="28.70" stroke-linecap="round" stroke-linejoin="round" clip-path="url(#cr)"/>
</g>
<g fill="#800000" stroke="#800000" stroke-width="0.8" stroke-linejoin="miter" stroke-miterlimit="10">
<polygon points="103.40,152.05 104.94,156.78 109.91,156.78 105.89,159.71 107.43,164.44 103.40,161.52 99.37,164.44 100.91,159.71 96.89,156.78 101.86,156.78"/>
<polygon points="123.00,141.35 124.54,146.08 129.51,146.08 125.49,149.01 127.03,153.74 123.00,150.82 118.97,153.74 120.51,149.01 116.49,146.08 121.46,146.08"/>
<polygon points="151.50,136.75 153.04,141.48 158.01,141.48 153.99,144.41 155.53,149.14 151.50,146.22 147.47,149.14 149.01,144.41 144.99,141.48 149.96,141.48"/>
<polygon points="194.60,131.05 196.14,135.78 201.11,135.78 197.09,138.71 198.63,143.44 194.60,140.52 190.57,143.44 192.11,138.71 188.09,135.78 193.06,135.78"/>
<polygon points="259.90,124.05 261.44,128.78 266.41,128.78 262.39,131.71 263.93,136.44 259.90,133.52 255.87,136.44 257.41,131.71 253.39,128.78 258.36,128.78"/>
<polygon points="359.10,120.25 360.64,124.98 365.61,124.98 361.59,127.91 363.13,132.64 359.10,129.72 355.07,132.64 356.61,127.91 352.59,124.98 357.56,124.98"/>
<polygon points="460.40,151.55 461.94,156.28 466.91,156.28 462.89,159.21 464.43,163.94 460.40,161.02 456.37,163.94 457.91,159.21 453.89,156.28 458.86,156.28"/>
<polygon points="479.70,141.25 481.24,145.98 486.21,145.98 482.19,148.91 483.73,153.64 479.70,150.72 475.67,153.64 477.21,148.91 473.19,145.98 478.16,145.98"/>
<polygon points="508.00,136.45 509.54,141.18 514.51,141.18 510.49,144.11 512.03,148.84 508.00,145.92 503.97,148.84 505.51,144.11 501.49,141.18 506.46,141.18"/>
<polygon points="551.40,131.55 552.94,136.28 557.91,136.28 553.89,139.21 555.43,143.94 551.40,141.02 547.37,143.94 548.91,139.21 544.89,136.28 549.86,136.28"/>
<polygon points="617.10,124.05 618.64,128.78 623.61,128.78 619.59,131.71 621.13,136.44 617.10,133.52 613.07,136.44 614.61,131.71 610.59,128.78 615.56,128.78"/>
<polygon points="716.20,120.25 717.74,124.98 722.71,124.98 718.69,127.91 720.23,132.64 716.20,129.72 712.17,132.64 713.71,127.91 709.69,124.98 714.66,124.98"/>
</g>
<g fill="#0000ff" stroke="#0000ff" stroke-width="0.8" stroke-linejoin="miter" stroke-miterlimit="10">
<polygon points="103.60,384.25 105.14,388.98 110.11,388.98 106.09,391.91 107.63,396.64 103.60,393.72 99.57,396.64 101.11,391.91 97.09,388.98 102.06,388.98"/>
<polygon points="122.30,353.05 123.84,357.78 128.81,357.78 124.79,360.71 126.33,365.44 122.30,362.52 118.27,365.44 119.81,360.71 115.79,357.78 120.76,357.78"/>
<polygon points="151.00,338.75 152.54,343.48 157.51,343.48 153.49,346.41 155.03,351.14 151.00,348.22 146.97,351.14 148.51,346.41 144.49,343.48 149.46,343.48"/>
<polygon points="194.40,322.85 195.94,327.58 200.91,327.58 196.89,330.51 198.43,335.24 194.40,332.32 190.37,335.24 191.91,330.51 187.89,327.58 192.86,327.58"/>
<polygon points="260.20,299.85 261.74,304.58 266.71,304.58 262.69,307.51 264.23,312.24 260.20,309.32 256.17,312.24 257.71,307.51 253.69,304.58 258.66,304.58"/>
<polygon points="359.30,288.15 360.84,292.88 365.81,292.88 361.79,295.81 363.33,300.54 359.30,297.62 355.27,300.54 356.81,295.81 352.79,292.88 357.76,292.88"/>
<polygon points="461.20,381.75 462.74,386.48 467.71,386.48 463.69,389.41 465.23,394.14 461.20,391.22 457.17,394.14 458.71,389.41 454.69,386.48 459.66,386.48"/>
<polygon points="479.50,352.25 481.04,356.98 486.01,356.98 481.99,359.91 483.53,364.64 479.50,361.72 475.47,364.64 477.01,359.91 472.99,356.98 477.96,356.98"/>
<polygon points="508.30,336.95 509.84,341.68 514.81,341.68 510.79,344.61 512.33,349.34 508.30,346.42 504.27,349.34 505.81,344.61 501.79,341.68 506.76,341.68"/>
<polygon points="551.40,321.45 552.94,326.18 557.91,326.18 553.89,329.11 555.43,333.84 551.40,330.92 547.37,333.84 548.91,329.11 544.89,326.18 549.86,326.18"/>
<polygon points="617.20,300.15 618.74,304.88 623.71,304.88 619.69,307.81 621.23,312.54 617.20,309.62 613.17,312.54 614.71,307.81 610.69,304.88 615.66,304.88"/>
<polygon points="716.80,288.05 718.34,292.78 723.31,292.78 719.29,295.71 720.83,300.44 716.80,297.52 712.77,300.44 714.31,295.71 710.29,292.78 715.26,292.78"/>
</g>
<g stroke="#000" stroke-width="1.80" fill="none" stroke-linecap="butt">
<rect x="99.0" y="44.0" width="714.0" height="376.2"/>
<line x1="456.0" y1="44.0" x2="456.0" y2="420.2"/>
<path d="M99.00 382.58 L104.00 382.58 M451.00 382.58 L461.00 382.58 M808.00 382.58 L813.00 382.58 M99.00 344.96 L108.50 344.96 M446.50 344.96 L465.50 344.96 M803.50 344.96 L813.00 344.96 M99.00 307.34 L104.00 307.34 M451.00 307.34 L461.00 307.34 M808.00 307.34 L813.00 307.34 M99.00 269.72 L108.50 269.72 M446.50 269.72 L465.50 269.72 M803.50 269.72 L813.00 269.72 M99.00 232.10 L104.00 232.10 M451.00 232.10 L461.00 232.10 M808.00 232.10 L813.00 232.10 M99.00 194.48 L108.50 194.48 M446.50 194.48 L465.50 194.48 M803.50 194.48 L813.00 194.48 M99.00 156.86 L104.00 156.86 M451.00 156.86 L461.00 156.86 M808.00 156.86 L813.00 156.86 M99.00 119.24 L108.50 119.24 M446.50 119.24 L465.50 119.24 M803.50 119.24 L813.00 119.24 M99.00 81.62 L104.00 81.62 M451.00 81.62 L461.00 81.62 M808.00 81.62 L813.00 81.62 M158.50 420.20 L158.50 415.20 M158.50 44.00 L158.50 49.00 M218.00 420.20 L218.00 410.70 M218.00 44.00 L218.00 53.50 M277.50 420.20 L277.50 415.20 M277.50 44.00 L277.50 49.00 M337.00 420.20 L337.00 410.70 M337.00 44.00 L337.00 53.50 M396.50 420.20 L396.50 415.20 M396.50 44.00 L396.50 49.00 M515.50 420.20 L515.50 415.20 M515.50 44.00 L515.50 49.00 M575.00 420.20 L575.00 410.70 M575.00 44.00 L575.00 53.50 M634.50 420.20 L634.50 415.20 M634.50 44.00 L634.50 49.00 M694.00 420.20 L694.00 410.70 M694.00 44.00 L694.00 53.50 M753.50 420.20 L753.50 415.20 M753.50 44.00 L753.50 49.00"/>
</g>
<text transform="translate(50.27 428.60) scale(1 1.095)" font-size="27" text-anchor="start">0.0</text>
<text transform="translate(50.27 353.36) scale(1 1.095)" font-size="27" text-anchor="start">0.2</text>
<text transform="translate(50.27 278.12) scale(1 1.095)" font-size="27" text-anchor="start">0.4</text>
<text transform="translate(50.27 202.88) scale(1 1.095)" font-size="27" text-anchor="start">0.6</text>
<text transform="translate(50.27 127.64) scale(1 1.095)" font-size="27" text-anchor="start">0.8</text>
<path transform="translate(50.27 52.40) scale(0.02700 -0.02794)" d="M359 0 L359 712 L300 712 C288 640 245 584 103 572 L103 508 L268 508 L268 0 Z" fill="#000"/><text transform="translate(65.28 52.40) scale(1 1.095)" font-size="27" text-anchor="start">.0</text>
<text transform="translate(91.79 452.60) scale(1 1.095)" font-size="27" text-anchor="start">0</text>
<text transform="translate(210.49 452.60) scale(1 1.095)" font-size="27" text-anchor="start">5</text>
<path transform="translate(321.99 452.60) scale(0.02700 -0.02794)" d="M359 0 L359 712 L300 712 C288 640 245 584 103 572 L103 508 L268 508 L268 0 Z" fill="#000"/><text transform="translate(337.00 452.60) scale(1 1.095)" font-size="27" text-anchor="start">0</text>
<text transform="translate(448.49 452.60) scale(1 1.095)" font-size="27" text-anchor="start">0</text>
<text transform="translate(567.49 452.60) scale(1 1.095)" font-size="27" text-anchor="start">5</text>
<path transform="translate(678.99 452.60) scale(0.02700 -0.02794)" d="M359 0 L359 712 L300 712 C288 640 245 584 103 572 L103 508 L268 508 L268 0 Z" fill="#000"/><text transform="translate(694.00 452.60) scale(1 1.095)" font-size="27" text-anchor="start">0</text>
<path transform="translate(798.29 452.60) scale(0.02700 -0.02794)" d="M359 0 L359 712 L300 712 C288 640 245 584 103 572 L103 508 L268 508 L268 0 Z" fill="#000"/><text transform="translate(813.30 452.60) scale(1 1.095)" font-size="27" text-anchor="start">5</text>
<g fill="none" stroke="#3a3a3a" stroke-width="0.9"><rect x="229.8" y="2.4" width="103.8" height="38.9"/><rect x="586.6" y="2.4" width="83.8" height="38.9"/></g>
<text transform="translate(280.80 31.30) scale(1 1.125)" font-size="27" text-anchor="middle">TQRPA</text>
<text transform="translate(628.40 31.30) scale(1 1.125)" font-size="27" text-anchor="middle">LSSM</text>
<g fill="none" stroke-width="2.60" stroke-linecap="round">
<path d="M303.5 352 H363" stroke="#800000" stroke-dasharray="9.9 13.95"/>
<path d="M303.4 386.1 H365.2" stroke="#0000ff" stroke-dasharray="12.5 8 1.5 8"/>
</g>
<text transform="translate(381.30 361.20) scale(1 1.070)" font-size="27" text-anchor="start">NH</text>
<text transform="translate(381.60 395.20) scale(1 1.070)" font-size="27" text-anchor="start">IH</text>
<text transform="translate(407.20 486.90) scale(1 1.050)" font-size="27" text-anchor="start">E</text>
<text class="sf" transform="translate(425.00 494.60) scale(1 1.095)" font-size="18" text-anchor="start">ν</text>
<text transform="translate(441.00 486.90) scale(1 1.050)" font-size="27.2" text-anchor="start">[MeV]</text>
<g transform="translate(32.4 343.3) rotate(-90)">
<text transform="translate(0.00 0.00) scale(1 1.095)" font-size="27" text-anchor="start">R</text>
<text transform="translate(19.40 -12.90) scale(1 1.095)" font-size="19" text-anchor="start">NH,IH</text>
<path d="M78.3 -10 v2 h13 v-2 z M78.3 -4.4 v2 h13 v-2 z" fill="#000"/>
<text transform="translate(100.60 0.00) scale(1 1.095)" font-size="27" text-anchor="start">S</text>
<text transform="translate(119.00 -12.90) scale(1 1.095)" font-size="19" text-anchor="start">NH,IH</text>
<text class="sf" transform="translate(119.60 8.40) scale(1 1.095)" font-size="18" text-anchor="start">ν</text>
<text transform="translate(178.60 0.00) scale(1 1.095)" font-size="27" text-anchor="start">/</text>
<text transform="translate(194.40 0.00) scale(1 1.095)" font-size="27" text-anchor="start">S</text>
<text transform="translate(212.60 -12.90) scale(1 1.095)" font-size="19" text-anchor="start">0</text>
<text class="sf" transform="translate(212.80 8.40) scale(1 1.095)" font-size="18" text-anchor="start">ν</text>
</g>
</svg></body></html>
